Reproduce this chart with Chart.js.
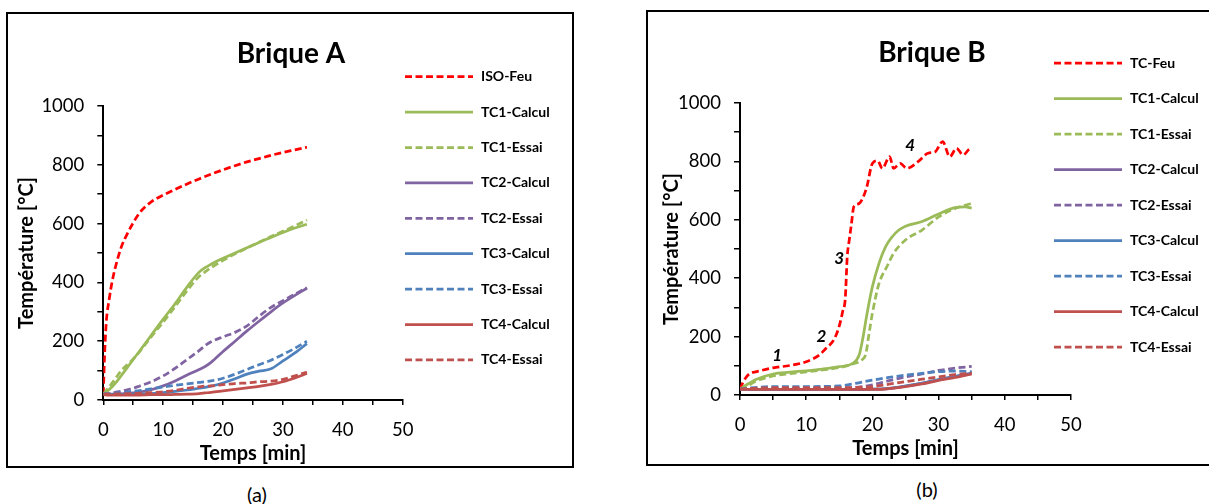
<!DOCTYPE html>
<html>
<head>
<meta charset="utf-8">
<script src="https://cdn.jsdelivr.net/npm/chart.js@4.4.1/dist/chart.umd.min.js"></script>
<style>
  body { margin:0; background:#fff; width:1209px; height:504px; overflow:hidden; position:relative; font-family: Lato, sans-serif; }
  .panel { position:absolute; border:2px solid #000; box-sizing:border-box; }
  .panel canvas { position:absolute; left:0; top:0; }
  .cap { position:absolute; font-size:20px; line-height:24px; transform:translateX(-50%); color:#000; }
</style>
</head>
<body>
<div class="panel" style="left:6px;top:12px;width:568px;height:456px"><canvas id="chartA" width="564" height="452"></canvas></div>
<div class="panel" style="left:646px;top:10px;width:600px;height:456px"><canvas id="chartB" width="561" height="452"></canvas></div>
<div class="cap" style="left:257px;top:482px">(a)</div>
<div class="cap" style="left:927px;top:477px">(b)</div>

<script>
// ---- Brique A (temps en min, temperature en °C)
const timeIsoA  = [0, 0.25, 0.5, 1, 1.5, 2, 3, 4, 5, 6, 7, 8, 10, 12, 14, 16, 18, 20, 22, 24, 26, 28, 30, 32, 34];
const isoFeuA   = [20, 170, 265, 345, 405, 450, 520, 565, 603, 635, 657, 674, 697, 716, 735, 752, 768, 783, 797, 810, 821, 832, 842, 851, 860];
const timeA     = [0, 1, 2, 3, 4, 5, 6, 8, 10, 12, 14, 16, 17, 18, 20, 22, 24, 26, 28, 30, 32, 34];
const tc1CalcA  = [20, 36, 57, 83, 110, 138, 165, 220, 275, 328, 385, 435, 450, 462, 482, 500, 518, 536, 553, 570, 585, 598];
const tc1EssaiA = [20, 45, 72, 100, 120, 140, 163, 215, 265, 318, 372, 420, 436, 450, 475, 497, 517, 537, 556, 574, 592, 612];
const tc2CalcA  = [20, 20, 20, 21, 22, 24, 27, 35, 48, 65, 85, 104, 114, 128, 165, 200, 235, 268, 300, 330, 356, 380];
const tc2EssaiA = [20, 22, 26, 30, 35, 40, 47, 62, 82, 108, 138, 168, 185, 198, 215, 230, 252, 285, 315, 338, 360, 382];
const tc3CalcA  = [20, 19, 19, 19, 19, 20, 20, 22, 25, 29, 34, 40, 43, 47, 58, 72, 88, 98, 106, 133, 160, 192];
const tc3EssaiA = [20, 21, 23, 25, 27, 30, 32, 38, 44, 50, 55, 60, 62, 65, 74, 88, 104, 120, 135, 155, 176, 200];
const tc4CalcA  = [18, 17, 17, 17, 17, 17, 17, 18, 18, 19, 20, 22, 24, 26, 31, 36, 41, 46, 53, 62, 75, 90];
const tc4EssaiA = [20, 20, 21, 21, 22, 22, 23, 25, 28, 33, 40, 45, 47, 48, 52, 56, 58, 62, 64, 70, 82, 95];

// ---- Brique B
const timeFeuB  = [0, 0.5, 1, 1.5, 2.5, 5, 7.5, 10, 12, 13, 14, 14.6, 15.1, 15.5, 15.9, 16.2, 16.5, 16.8, 17.2, 18, 19.1, 20, 20.8, 21.5, 22.6, 23.2, 24.2, 25.2, 26.9, 28.4, 29.5, 30.6, 31.7, 32.7, 33.7, 34.6, 35];
const tcFeuB    = [20, 45, 63, 74, 80, 93, 101, 114, 137, 160, 183, 210, 245, 285, 330, 474, 530, 580, 645, 656, 708, 793, 802, 776, 816, 776, 793, 776, 799, 828, 833, 868, 816, 845, 822, 841, 845];
const timeTc1CalcB  = [0, 1, 2.5, 5, 7.5, 10, 12.5, 15, 17, 18, 18.5, 19.2, 20, 21, 22, 23, 24, 25, 27.5, 30, 32.5, 34, 35];
const tc1CalcB      = [20, 35, 54, 72, 78, 83, 89, 97, 108, 137, 188, 280, 371, 451, 508, 542, 565, 578, 594, 620, 642, 644, 640];
const timeTc1EssaiB = [0, 1, 2.5, 5, 7.5, 10, 12.5, 15, 17, 18.5, 19, 19.5, 20, 21, 22.2, 23.2, 25, 27.5, 30, 32.5, 34, 35];
const tc1EssaiB     = [20, 30, 48, 65, 73, 79, 86, 94, 106, 122, 140, 211, 280, 382, 440, 485, 531, 565, 610, 639, 650, 656];
const timeB     = [0, 2, 5, 10, 15, 17.5, 20, 22.5, 25, 27.5, 30, 32.5, 35];
const tc2CalcB  = [20, 19, 19, 19, 19, 19, 20, 22, 30, 40, 52, 63, 73];
const tc2EssaiB = [20, 22, 22, 23, 24, 26, 35, 49, 62, 72, 84, 92, 98];
const tc3CalcB  = [20, 19, 19, 19, 19, 19, 20, 23, 31, 41, 53, 64, 75];
const tc3EssaiB = [20, 25, 29, 29, 31, 40, 51, 60, 68, 74, 80, 82, 80];
const tc4CalcB  = [20, 19, 19, 19, 19, 19, 19, 22, 29, 38, 50, 60, 72];
const tc4EssaiB = [20, 23, 25, 25, 25, 26, 29, 37, 46, 54, 62, 70, 75];

// annotations on Brique B (phases)
const noteLabels = ['1', '2', '3', '4'];
const noteTimes  = [5.6, 12.3, 15.0, 25.7];
const noteTemps  = [134, 202, 469, 853];

const C_FEU = '#FF0000', C_TC1 = '#9BBB59', C_TC2 = '#8064A2', C_TC3 = '#4F81BD', C_TC4 = '#C0504D';

Chart.defaults.font.family = 'Lato, sans-serif';
Chart.defaults.color = '#000';

function serie(label, xs, ys, color, dashed, i) {
    return {
        label: label,
        data: xs.map((x, k) => ({x: x, y: ys[k]})),
        borderColor: color,
        backgroundColor: color,
        borderWidth: 2.75,
        borderDash: dashed ? [7, 3.5] : [],
        pointRadius: 0,
        fill: false,
        cubicInterpolationMode: 'monotone',
        order: -i   // excel draws later series on top
    };
}

// title, legend and phase numbers
const panelDecor = {
    id: 'panelDecor',
    afterDraw(chart, args, opts) {
        const ctx = chart.ctx;
        ctx.save();
        ctx.fillStyle = '#000';
        ctx.textBaseline = 'middle';
        ctx.textAlign = 'center';
        ctx.font = 'bold 28px Lato';
        ctx.fillText(opts.title, opts.titleX, opts.titleY);

        ctx.textAlign = 'left';
        chart.data.datasets.forEach((ds, i) => {
            const y = opts.legendY + i * opts.legendStep;
            ctx.beginPath();
            ctx.setLineDash(ds.borderDash);
            ctx.strokeStyle = ds.borderColor;
            ctx.lineWidth = ds.borderWidth;
            ctx.moveTo(opts.legendX, y);
            ctx.lineTo(opts.legendX + 68, y);
            ctx.stroke();
            ctx.setLineDash([]);
            ctx.font = 'bold 14px Lato';
            ctx.fillText(ds.label, opts.legendX + 76, y);
        });

        if (opts.notes) {
            ctx.textAlign = 'center';
            ctx.font = 'italic bold 17px Lato';
            opts.notes.labels.forEach((t, i) => {
                ctx.fillText(t, chart.scales.x.getPixelForValue(opts.notes.x[i]),
                                chart.scales.y.getPixelForValue(opts.notes.y[i]));
            });
        }
        ctx.restore();
    }
};

function axes(yWidth) {
    return {
        x: {
            type: 'linear', min: 0, max: 50,
            border: {color: '#000', width: 2},
            grid: {drawOnChartArea: false, color: '#000', tickLength: 5, lineWidth: 1.5},
            ticks: {stepSize: 5, autoSkip: false, maxRotation: 0, color: '#000', padding: 14, font: {size: 18.5},
                    callback: v => v % 10 === 0 ? v : ''},
            title: {display: true, text: 'Temps [min]', color: '#000', font: {size: 20, weight: 'bold'}, padding: {top: 0, bottom: 0}},
            afterFit: s => { s.height = 66; }
        },
        y: {
            min: 0, max: 1000,
            border: {color: '#000', width: 2},
            grid: {drawOnChartArea: false, color: '#000', tickLength: 6, lineWidth: 1.5},
            ticks: {stepSize: 100, autoSkip: false, color: '#000', padding: 13, font: {size: 18.5},
                    callback: v => v % 200 === 0 ? v : ''},
            title: {display: true, text: 'Température [°C]', color: '#000', font: {size: 20, weight: 'bold'}, padding: {top: 3, bottom: 4}},
            afterFit: s => { s.width = yWidth; }
        }
    };
}

new Chart(document.getElementById('chartA'), {
    type: 'line',
    data: {
        datasets: [
            serie('ISO-Feu', timeIsoA, isoFeuA, C_FEU, true, 0),
            serie('TC1-Calcul', timeA, tc1CalcA, C_TC1, false, 1),
            serie('TC1-Essai', timeA, tc1EssaiA, C_TC1, true, 2),
            serie('TC2-Calcul', timeA, tc2CalcA, C_TC2, false, 3),
            serie('TC2-Essai', timeA, tc2EssaiA, C_TC2, true, 4),
            serie('TC3-Calcul', timeA, tc3CalcA, C_TC3, false, 5),
            serie('TC3-Essai', timeA, tc3EssaiA, C_TC3, true, 6),
            serie('TC4-Calcul', timeA, tc4CalcA, C_TC4, false, 7),
            serie('TC4-Essai', timeA, tc4EssaiA, C_TC4, true, 8)
        ]
    },
    options: {
        responsive: false,
        animation: false,
        layout: {padding: {left: 3.3, right: 169.3, top: 92, bottom: 0}},
        scales: axes(92),
        plugins: {
            legend: {display: false},
            tooltip: {enabled: false},
            panelDecor: {title: 'Brique A', titleX: 283, titleY: 40, legendX: 397, legendY: 62.7, legendStep: 35.4}
        }
    },
    plugins: [panelDecor]
});

new Chart(document.getElementById('chartB'), {
    type: 'line',
    data: {
        datasets: [
            serie('TC-Feu', timeFeuB, tcFeuB, C_FEU, true, 0),
            serie('TC1-Calcul', timeTc1CalcB, tc1CalcB, C_TC1, false, 1),
            serie('TC1-Essai', timeTc1EssaiB, tc1EssaiB, C_TC1, true, 2),
            serie('TC2-Calcul', timeB, tc2CalcB, C_TC2, false, 3),
            serie('TC2-Essai', timeB, tc2EssaiB, C_TC2, true, 4),
            serie('TC3-Calcul', timeB, tc3CalcB, C_TC3, false, 5),
            serie('TC3-Essai', timeB, tc3EssaiB, C_TC3, true, 6),
            serie('TC4-Calcul', timeB, tc4CalcB, C_TC4, false, 7),
            serie('TC4-Essai', timeB, tc4EssaiB, C_TC4, true, 8)
        ]
    },
    options: {
        responsive: false,
        animation: false,
        layout: {padding: {left: 9, right: 138, top: 91, bottom: 3}},
        scales: axes(83),
        plugins: {
            legend: {display: false},
            tooltip: {enabled: false},
            panelDecor: {title: 'Brique B', titleX: 284, titleY: 41, legendX: 406, legendY: 51, legendStep: 35.5,
                         notes: {labels: noteLabels, x: noteTimes, y: noteTemps}}
        }
    },
    plugins: [panelDecor]
});
</script>
</body>
</html>
